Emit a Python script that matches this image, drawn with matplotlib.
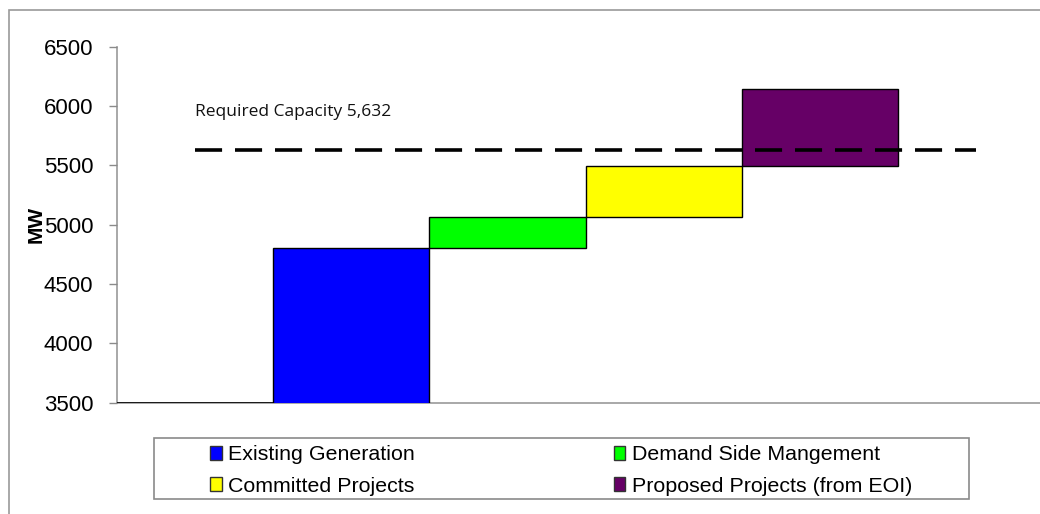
import matplotlib
matplotlib.use("Agg")
import matplotlib.pyplot as plt
from matplotlib.patches import Rectangle, Patch

plt.rcParams['font.family'] = ['Liberation Sans', 'DejaVu Sans']
plt.rcParams['lines.scale_dashes'] = False

# waterfall data (MW)
categories = ['', 'Existing Generation', 'Demand Side Mangement',
              'Committed Projects', 'Proposed Projects (from EOI)', '']
start_level = 3500
steps = [4805, 260, 430, 645]
colors = ['#0000ff', '#00ff00', '#ffff00', '#660066']
required_capacity = 5632
yticks = [3500, 4000, 4500, 5000, 5500, 6000, 6500]

W, H = 1040, 514
fig = plt.figure(figsize=(W / 100, H / 100), dpi=100)

# outer chart border (cut off on right and bottom)
fig.patches.append(Rectangle((9 / W, -0.2), 1.2, (1 - 10 / H) + 0.2,
                             transform=fig.transFigure, fill=False,
                             edgecolor='#9a9a9a', linewidth=1.2))

left = 116.75 / W
width = 6 * 156.25 / W
bottom = (H - 402.7) / H
height = (402.7 - 46.7) / H
ax = fig.add_axes([left, bottom, width, height])

x = list(range(len(categories)))

# base bar at category 0 (only its top edge shows at 3500)
ax.bar(x[0], start_level, width=1.0, color='white', edgecolor='black',
       linewidth=1.2, zorder=2)

level = 0
for i, (v, c) in enumerate(zip(steps, colors)):
    ax.bar(x[i + 1], v, bottom=level, width=1.0, color=c,
           edgecolor='black', linewidth=1, zorder=2)
    level += v

ax.plot(x, [required_capacity] * len(x), color='black', linewidth=2.6,
        dashes=(19.5, 9.3), zorder=3)

ax.text(0, 5950, 'Required Capacity 5,632', fontsize=12.5, family='Open Sans',
        ha='left', va='center', color='#111111')

ax.set_xlim(-0.5, len(x) - 0.5)
ax.set_ylim(3500, 6500)
ax.set_yticks(yticks)
ax.set_xticks([])
ax.tick_params(axis='y', labelsize=16, length=6, width=1, color='#8a8a8a', pad=11)
for s in ['top', 'right']:
    ax.spines[s].set_visible(False)
for s in ['left', 'bottom']:
    ax.spines[s].set_color('#9a9a9a')
    ax.spines[s].set_linewidth(1.2)
    ax.spines[s].set_zorder(1.5)

ax.set_ylabel('MW', fontsize=15, fontweight='bold')
ax.yaxis.set_label_coords(-0.0755, 0.5)

# legend
handles = [Patch(facecolor=colors[0], edgecolor='#333333', label=categories[1]),
           Patch(facecolor=colors[2], edgecolor='#333333', label=categories[3]),
           Patch(facecolor=colors[1], edgecolor='#333333', label=categories[2]),
           Patch(facecolor=colors[3], edgecolor='#333333', label=categories[4])]
fig.legend(handles=handles, ncol=2, loc='center',
           bbox_to_anchor=(561 / W, (H - 470.5) / H), frameon=False,
           fontsize=15.4, handlelength=0.55, handleheight=0.6,
           handletextpad=0.3, columnspacing=9.3, labelspacing=0.58,
           borderpad=0)
fig.patches.append(Rectangle((154 / W, (H - 499) / H), (969 - 154) / W, 61 / H,
                             transform=fig.transFigure, fill=False,
                             edgecolor='#8a8a8a', linewidth=1.2))

fig.savefig('out.png', dpi=100)
